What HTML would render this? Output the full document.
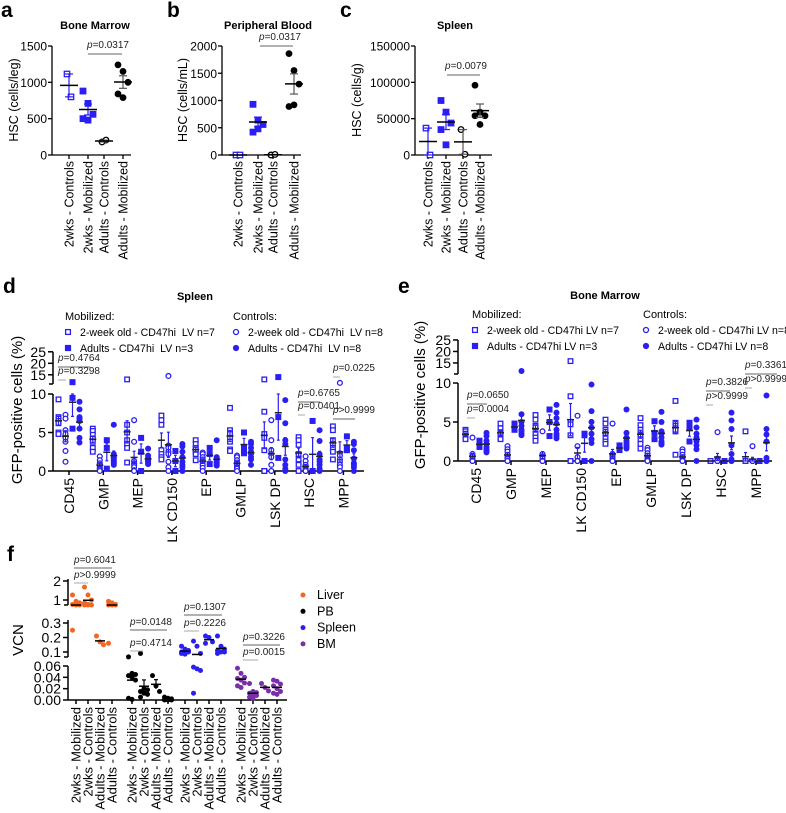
<!DOCTYPE html>
<html><head><meta charset="utf-8"><style>
body{margin:0;background:#fff}
svg{display:block;font-family:"Liberation Sans",Arial,sans-serif}
</style></head><body>
<svg id="fig" width="786" height="813" viewBox="0 0 786 813"></svg>
<script>
// ---------- Panel a/b/c data ----------
const abcCategories = ["2wks - Controls","2wks - Mobilized","Adults - Controls","Adults - Mobilized"];
const aBM_2wksCtrl = [1115, 800];
const aBM_2wksMob = [880, 710, 560, 500, 480];
const aBM_adultCtrl = [180, 205];
const aBM_adultMob = [1240, 1150, 1000, 840, 790];
const bPB_2wksCtrl = [0, 0];
const bPB_2wksMob = [930, 640, 560, 420, 480];
const bPB_adultCtrl = [0, 10];
const bPB_adultMob = [1860, 1550, 1300, 890, 920];
const cSp_2wksCtrl = [37000, 0];
const cSp_2wksMob = [75000, 59000, 44000, 35000, 14000];
const cSp_adultCtrl = [35000, 1000];
const cSp_adultMob = [96000, 59000, 54000, 54000, 42000];
const aTicks = [0, 500, 1000, 1500];
const bTicks = [0, 500, 1000, 1500, 2000];
const cTicks = [0, 50000, 100000, 150000];

// ---------- Panel d/e data ----------
const deCategories = ["CD45","GMP","MEP","LK CD150","EP","GMLP","LSK DP","HSC","MPP"];
const dOpenSq = [[9.3,7,6.8,6.5,6.2,5,4.8],[5.5,5.2,4.7,4.2,3.8,3.0,2.5],[13,6,5,4,3.5,3,1.1],[7.2,6.6,6.0,2.7,2.2,1.8,1.5],[4.0,3.5,3.0,2.8,2.5,2.2,1.4],[8.2,5.3,4.8,4.3,3.8,2.8,2.6],[13,7.7,4.8,4.3,2.7,0,0],[4.4,4.0,3.4,2.2,1.5,0.8,0],[5.8,5.3,4.0,3.5,3.0,2.5,1.5]];
const dOpenCirc = [[7.3,6.8,5.3,4.8,4.3,3.8,2.6,1.2],[1.9,1.4,1.0,0.8,0.5,0.3,0.2,0],[6.6,3.8,1.3,1.0,0.8,0.5,0.1,0],[14.5,3.3,3.0,2.5,2.2,1.2,0.5,0],[2.4,2.2,1.8,1.5,1.2,0.8,0.4,0],[2.0,1.8,1.4,1.1,0.8,0.5,0.3,0],[6.6,4.0,2.7,2.2,1.8,0.8,0,0],[1.9,1.3,0.8,0.5,0.2,0,0,0],[11.5,2.3,2.0,1.5,1.2,0.8,0.5,0]];
const dFillSq = [[11.8,9.5,5.5],[4.0,3.0,0.3],[4.3,2.5,0],[2.6,1.3,0],[3.0,2.2,0.9],[5.0,3.0,2.3],[14,7.0,1.7],[6.5,0,0],[4.5,2.7,2.9]];
const dFillCirc = [[9,8,7,6.8,6.5,5.5,4.3,3.7],[6.0,2.2,1.8,1.6,1.4,1.2,1.0,0.8],[2.9,2.0,1.7,1.5,1.3,1.2,1.0,0.9],[3.5,3.2,2.5,1.8,1.2,0.8,0.5,0],[4.0,1.8,1.5,1.3,1.1,1.0,0.8,0.7],[3.8,3.5,3.0,2.5,2.2,1.8,1.5,0.8],[9.2,6.2,4.0,3.5,1.5,0.8,0.3,0],[5.3,3.9,2.2,1.5,1.2,0.8,0.3,0],[3.8,3.5,2.7,1.6,1.0,0.8,0.5,0]];
const eOpenSq = [[4.0,3.6,3.3,3.0,2.8,3.8,3.5],[4.8,4.2,3.7,3.3,3.0,2.8,3.5],[5.9,5.3,4.5,3.5,3.0,2.6,4.3],[15.8,8.3,5.0,4.7,3.3,0,0],[5.3,4.8,4.0,3.5,3.0,2.5,2.2],[5.5,4.6,4.0,3.3,2.8,2.2,1.6],[7.7,4.9,4.5,4.2,3.8,0.8,4.0],[0,0,0,0,0,0,0],[3.8,0,0,0,0,0,0]];
const eOpenCirc = [[3.0,0.9,0.6,0.3,0.1,0,0,0],[1.9,1.5,1.2,0.8,0.5,0.3,0,0],[3.8,0.9,0.6,0.3,0,0,0,0],[5.8,1.9,0.5,0,0,0,0,0],[4.8,0.9,0.7,0.5,0.3,0.1,0,0],[1.7,1.4,1.0,0.7,0.4,0.2,0,0],[1.5,1.2,0.8,0.5,0.2,0,0,0],[3.7,0.3,0.1,0,0,0,0,0],[1.9,0,0,0,0,0,0,0]];
const eFillSq = [[2.6,2.0,1.8],[4.8,4.3,4.0],[6.6,5.0,3.2],[3.5,3.3,0],[2.0,1.6,1.4],[5.1,3.6,2.8],[4.9,4.3,2.5],[0,0,0],[0,0,0]];
const eFillCirc = [[3.6,3.2,2.6,2.2,1.8,1.5,1.3,1.1],[11.5,6.0,5.0,4.5,4.0,3.8,3.5,3.3],[7.2,6.2,5.5,4.8,4.0,3.5,3.2,2.9],[9.8,6.4,5.0,4.3,3.5,2.8,2.3,0],[6.6,3.6,3.0,2.6,2.3,2.0,1.8,1.6],[6.3,5.0,3.8,3.5,3.0,2.5,2.3,2.1],[5.3,4.3,3.5,3.0,2.5,2.0,1.5,0],[6.2,5.2,4.1,2.0,0.9,0.2,0,0],[8.4,4.1,3.4,2.5,0.4,0,0,0]];

// ---------- Panel f data ----------
const fGroups = ["Liver","PB","Spleen","BM"];
const fCategories = ["2wks - Mobilized","2wks - Controls","Adults - Mobilized","Adults - Controls"];
const fLiver = [[1.2,0.95,0.9,0.85,0.82,0.8,0.25],[1.6,1.2,1.0,0.9,0.85,0.8,0.8,0.78],[0.21,0.17,0.15],[0.95,0.9,0.85,0.8,0.78,0.76,0.16]];
const fPB = [[0.066,0.047,0.045,0.043,0.04,0.035,0.003,0.001],[0.09,0.02,0.018,0.015,0.012,0.01,0.005],[0.043,0.025,0.015],[0.005,0.003,0.002,0.001,0,0,0]];
const fSpleen = [[0.14,0.12,0.11,0.1,0.1,0.1,0.09,0.085],[0.175,0.14,0.09,0.058,0.055,0.052,0.012],[0.21,0.2,0.17,0.16],[0.21,0.14,0.12,0.11,0.1,0.1,0.09]];
const fBM = [[0.056,0.047,0.04,0.038,0.035,0.03,0.025,0.022],[0.029,0.015,0.013,0.012,0.01,0.008,0.005,0.003],[0.029,0.022,0.016],[0.035,0.033,0.028,0.025,0.02,0.015,0.012,0.01]];

const BLUE="#2a1ff2", ORANGE="#f26522", PURPLE="#7a2fa8";
const svg=document.getElementById('fig');
const NS="http://www.w3.org/2000/svg";
function el(tag,attrs,parent){const e=document.createElementNS(NS,tag);for(const k in attrs)e.setAttribute(k,attrs[k]);(parent||svg).appendChild(e);return e;}
function txt(s,x,y,attrs,parent){const t=el('text',Object.assign({x:x,y:y},attrs||{}),parent);t.textContent=s;return t;}
function group(name){const g=el('g',{});return g;}
function mean(a){return a.reduce((s,v)=>s+v,0)/a.length;}
function sem(a){const m=mean(a);if(a.length<2)return 0;const sd=Math.sqrt(a.reduce((s,v)=>s+(v-m)*(v-m),0)/(a.length-1));return sd/Math.sqrt(a.length);}
function marker(g,kind,x,y,r,color){
  if(kind==='osq')return el('rect',{x:x-r+0.7,y:y-r+0.7,width:2*r-1.4,height:2*r-1.4,fill:'#fff',stroke:color,'stroke-width':1.3},g);
  if(kind==='fsq')return el('rect',{x:x-r,y:y-r,width:2*r,height:2*r,fill:color},g);
  if(kind==='ocirc')return el('circle',{cx:x,cy:y,r:r-0.6,fill:'#fff',stroke:color,'stroke-width':1.3},g);
  return el('circle',{cx:x,cy:y,r:r,fill:color},g);
}
function meanSem(g,vals,x,yf,w,cw,color,lineColor){
  const m=mean(vals),s=sem(vals);
  el('line',{x1:x,x2:x,y1:yf(m+s),y2:yf(Math.max(0,m-s)),stroke:color,'stroke-width':1.2},g);
  el('line',{x1:x-cw,x2:x+cw,y1:yf(m+s),y2:yf(m+s),stroke:color,'stroke-width':1.2},g);
  el('line',{x1:x-cw,x2:x+cw,y1:yf(Math.max(0,m-s)),y2:yf(Math.max(0,m-s)),stroke:color,'stroke-width':1.2},g);
  el('line',{x1:x-w,x2:x+w,y1:yf(m),y2:yf(m),stroke:lineColor,'stroke-width':1.5},g);
}
function pval(g,label,x,y,lineX1,lineX2,lineY,grey,fs){
  const t=el('text',{x:x,y:y,'font-size':fs||10,fill:'#222'},g);
  const p=document.createElementNS(NS,'tspan');p.setAttribute('font-style','italic');p.textContent='p';t.appendChild(p);
  t.appendChild(document.createTextNode(label));
  el('line',{x1:lineX1,x2:lineX2,y1:lineY,y2:lineY,stroke:grey?'#aaa':'#666','stroke-width':1},g);
}

// ---------- panels a,b,c ----------
function abcPanel(cfg){
  const g=group(cfg.name);
  const y0=155,yTop=46;
  const yf=v=>y0-(v/cfg.max)*(y0-yTop);
  txt(cfg.letter,cfg.lx,17,{'font-size':21,'font-weight':'bold'},g);
  txt(cfg.title,cfg.tx,29,{'font-size':11,'font-weight':'bold','text-anchor':'middle'},g);
  el('line',{x1:cfg.ax,x2:cfg.ax,y1:yTop,y2:y0,stroke:'#000','stroke-width':1.3},g);
  el('line',{x1:cfg.ax,x2:cfg.xend,y1:y0,y2:y0,stroke:'#000','stroke-width':1.3},g);
  cfg.ticks.forEach(t=>{const y=yf(t);el('line',{x1:cfg.ax-4,x2:cfg.ax,y1:y,y2:y,stroke:'#000','stroke-width':1.3},g);
    const tl=txt(String(t),cfg.ax-5,y+4.5,{'font-size':12,'text-anchor':'end'},g);});
  const yt=txt(cfg.ytitle,0,0,{'font-size':12.5,'text-anchor':'middle',transform:`translate(${cfg.ytx},100) rotate(-90)`},g);
  
  const kinds=['osq','fsq','ocirc','fcirc'];
  const colors=[BLUE,BLUE,'#000','#000'];
  cfg.series.forEach((vals,i)=>{
    const cx=cfg.cats[i];
    el('line',{x1:cx,x2:cx,y1:y0,y2:y0+4,stroke:'#000','stroke-width':1.3},g);
    const xl=txt(abcCategories[i],0,0,{'font-size':12.5,'text-anchor':'end',transform:`translate(${cx+4.5},161) rotate(-90)`},g);
    
    vals.forEach((v,j)=>{const off=vals.length>2?((j%3)-1)*5:(j===0?-2:2);
      const mk=marker(g,kinds[i],cx+off,yf(v),3.4,colors[i]);});
    meanSem(g,vals,cx,yf,9,4,i<2?BLUE:'#555','#000');
  });
  pval(g,cfg.p,cfg.px,cfg.py,cfg.pl1,cfg.pl2,cfg.py+6,false,10);
}
abcPanel({name:'panel-a',letter:'a',lx:1,title:'Bone Marrow',tx:95,ax:52,xend:131,max:1500,ticks:aTicks,ytitle:'HSC (cells/leg)',ytx:18,
  cats:[69,88,104,123],series:[aBM_2wksCtrl,aBM_2wksMob,aBM_adultCtrl,aBM_adultMob],p:'=0.0317',px:87,py:48,pl1:88,pl2:122});
abcPanel({name:'panel-b',letter:'b',lx:167,title:'Peripheral Blood',tx:268,ax:222,xend:301,max:2000,ticks:bTicks,ytitle:'HSC (cells/mL)',ytx:187,
  cats:[238,258,273,294],series:[bPB_2wksCtrl,bPB_2wksMob,bPB_adultCtrl,bPB_adultMob],p:'=0.0317',px:259,py:40,pl1:260,pl2:293});
abcPanel({name:'panel-c',letter:'c',lx:340,title:'Spleen',tx:455,ax:415,xend:492,max:150000,ticks:cTicks,ytitle:'HSC (cells/g)',ytx:361,
  cats:[428,446,463,480],series:[cSp_2wksCtrl,cSp_2wksMob,cSp_adultCtrl,cSp_adultMob],p:'=0.0079',px:445,py:69,pl1:447,pl2:480});

// ---------- panels d,e ----------
function dePanel(cfg){
  const g=group(cfg.name);
  const yf=v=>v<=cfg.brk? cfg.y0-v*cfg.k : (v<cfg.uMin? cfg.uBot : cfg.uBot-(v-cfg.uMin)*cfg.ku);
  txt(cfg.letter,cfg.lx,293,{'font-size':21,'font-weight':'bold'},g);
  txt(cfg.title,cfg.tx,cfg.ty,{'font-size':11,'font-weight':'bold','text-anchor':'middle'},g);
  const lg=group(cfg.name+'-legend');g.appendChild(lg);
  txt('Mobilized:',cfg.legX,cfg.legY,{'font-size':11},lg);
  txt('Controls:',cfg.legX2,cfg.legY,{'font-size':11},lg);
  const rows=[['osq','2-week old - CD47hi'+cfg.sp+'LV n=7',cfg.legX],['fsq','Adults - CD47hi'+cfg.sp+'LV n=3',cfg.legX],
              ['ocirc','2-week old - CD47hi'+cfg.sp+'LV n=8',cfg.legX2],['fcirc','Adults - CD47hi'+cfg.sp+'LV n=8',cfg.legX2]];
  rows.forEach((r,i)=>{const y=cfg.legY+16*(i%2+1);
    const e=group('legend-entry');lg.appendChild(e);
    marker(e,r[0],r[2]+3,y-4,3.1,BLUE);
    txt(r[1],r[2]+15,y,{'font-size':10.6},e);});
  el('line',{x1:cfg.ax,x2:cfg.ax,y1:cfg.y0-10*cfg.k,y2:cfg.y0,stroke:'#000','stroke-width':1.5},g);
  el('line',{x1:cfg.ax,x2:cfg.ax,y1:cfg.uBot-(25-cfg.uMin)*cfg.ku,y2:cfg.uBot,stroke:'#000','stroke-width':1.5},g);
  el('line',{x1:cfg.ax-4,x2:cfg.ax,y1:cfg.uBot,y2:cfg.uBot,stroke:'#000','stroke-width':1.5},g);
  el('line',{x1:cfg.ax,x2:cfg.xend,y1:cfg.y0,y2:cfg.y0,stroke:'#000','stroke-width':1.5},g);
  [0,5,10,15,20,25].forEach(t=>{const y=yf(t);el('line',{x1:cfg.ax-5,x2:cfg.ax,y1:y,y2:y,stroke:'#000','stroke-width':1.5},g);
    txt(String(t),cfg.ax-7,y+5,{'font-size':14,'text-anchor':'end'},g);});
  txt('GFP-positive cells (%)',0,0,{'font-size':15,'text-anchor':'middle',transform:`translate(${cfg.ytx},${cfg.yty}) rotate(-90)`},g);
  const kinds=['osq','ocirc','fsq','fcirc'];
  const offs=[-10.5,-3.5,3.5,10.5];
  deCategories.forEach((c,ci)=>{
    const cx=cfg.x0+ci*cfg.dx;
    el('line',{x1:cx,x2:cx,y1:cfg.y0,y2:cfg.y0+4,stroke:'#000','stroke-width':1.5},g);
    txt(c,0,0,{'font-size':14,'text-anchor':'end',transform:`translate(${cx+5},${cfg.y0+7}) rotate(-90)`},g);
    cfg.series.forEach((ser,si)=>{
      const vals=ser[ci],x=cx+offs[si];
      vals.forEach(v=>{const m=marker(g,kinds[si],x,yf(v),3.0,BLUE);});
      meanSem(g,vals,x,v=>yf(Math.min(v,10)),3.5,1.5,BLUE,'#222');
    });
  });
  const pg=group(cfg.name+'-pvalues');g.appendChild(pg);
  cfg.pvals.forEach(p=>pval(pg,p[0],p[1],p[2],p[1],p[3],p[2]+6,p[4],10));
}
dePanel({name:'panel-d',letter:'d',lx:3,title:'Spleen',tx:195,ty:300,legX:65,legX2:233,legY:320,sp:'\u00a0\u00a0',
  ax:53,xend:364,y0:471,k:7.7,brk:10.5,uMin:11,uBot:384,ku:2.3,x0:69,dx:34.3,ytx:22,yty:410,
  series:[dOpenSq,dOpenCirc,dFillSq,dFillCirc],
  pvals:[['=0.4764',58,361,90,false],['=0.3298',58,374,66,true],['=0.6765',298,396,320,false],['=0.0401',298,409,305,true],
         ['=0.0225',333,371,340,true],['>0.9999',333,413,355,false]]});
dePanel({name:'panel-e',letter:'e',lx:398,title:'Bone Marrow',tx:605,ty:299,legX:472,legX2:643,legY:318,sp:' ',
  ax:458,xend:772,y0:461,k:7.8,brk:10.2,uMin:10.2,uBot:374,ku:2.3,x0:476,dx:35,ytx:425,yty:395,
  series:[eOpenSq,eOpenCirc,eFillSq,eFillCirc],
  pvals:[['=0.0650',467,398,487,false],['=0.0004',467,412,475,true],['=0.3826',706,385,730,false],['>0.9999',706,399,713,true],
         ['=0.3361',745,368,777,false],['>0.9999',745,382,752,true]]});

// ---------- panel f ----------
(function(){
  const g=group('panel-f');
  const yf=v=> v<=0.065 ? 700-v*567 : (v<=0.5 ? 652-(v-0.1)*145 : Math.min(605,600-19*Math.log2(v)));
  txt('f',7,561,{'font-size':21,'font-weight':'bold'},g);
  const ax=68;
  [[666,700],[620,657],[579,605]].forEach(s=>el('line',{x1:ax,x2:ax,y1:s[0],y2:s[1],stroke:'#000','stroke-width':1.5},g));
  el('line',{x1:ax-4,x2:ax,y1:657,y2:657,stroke:'#000','stroke-width':1.5},g);
  el('line',{x1:ax-4,x2:ax,y1:605,y2:605,stroke:'#000','stroke-width':1.5},g);
  el('line',{x1:ax,x2:287,y1:700,y2:700,stroke:'#000','stroke-width':1.5},g);
  const fTicks=[0,0.02,0.04,0.06,0.1,0.2,0.3,1,2];
  const fTickLabels=["0.00","0.02","0.04","0.06","0.1","0.2","0.3","1","2"];
  fTicks.forEach((t,i)=>{const y=yf(t);el('line',{x1:ax-5,x2:ax,y1:y,y2:y,stroke:'#000','stroke-width':1.5},g);
    txt(fTickLabels[i],ax-7,y+5,{'font-size':14,'text-anchor':'end'},g);});
  txt('VCN',0,0,{'font-size':15,'text-anchor':'middle',transform:'translate(23,640) rotate(-90)'},g);
  const series=[fLiver,fPB,fSpleen,fBM], colors=[ORANGE,'#000',BLUE,PURPLE];
  const gx=[76,132,185,241], dx=12;
  series.forEach((ser,gi)=>{
    ser.forEach((vals,ci)=>{
      const cx=gx[gi]+ci*dx;
      el('line',{x1:cx,x2:cx,y1:700,y2:704,stroke:'#000','stroke-width':1.5},g);
      txt(fCategories[ci],0,0,{'font-size':13,'text-anchor':'end',transform:`translate(${cx+4.5},707) rotate(-90)`},g);
      vals.forEach((v,j)=>{const off=((j%3)-1)*3.5;const c=el('circle',{cx:cx+off,cy:yf(v),r:2.5,fill:colors[gi]},g);});
      const m=mean(vals);
      if(gi===1&&(ci===1||ci===2)){const s=sem(vals);
        el('line',{x1:cx,x2:cx,y1:yf(m+s),y2:yf(m-s),stroke:'#000','stroke-width':1.2},g);
        el('line',{x1:cx-2,x2:cx+2,y1:yf(m+s),y2:yf(m+s),stroke:'#000','stroke-width':1.2},g);}
      el('line',{x1:cx-5,x2:cx+5,y1:yf(m),y2:yf(m),stroke:'#000','stroke-width':1.5},g);
    });
  });
  const pg=group('panel-f-pvalues');g.appendChild(pg);
  [['=0.6041',74,563,112,false],['>0.9999',74,578,88,true],['=0.0148',130,625,167,false],['=0.4714',130,646,143,true],
   ['=0.1307',184,610,222,false],['=0.2226',184,626,199,true],['=0.3226',243,640,280,false],['=0.0015',243,655,258,true]]
   .forEach(p=>pval(pg,p[0],p[1],p[2],p[1],p[3],p[2]+5,p[4],10));
  const lg=group('panel-f-legend');g.appendChild(lg);
  fGroups.forEach((n,i)=>{const y=599+16.3*i;const e=group('legend-entry');lg.appendChild(e);
    el('circle',{cx:303,cy:y-4,r:2.5,fill:colors[i]},e);txt(n,317,y,{'font-size':12.5},e);});
})();
</script>
</body></html>
